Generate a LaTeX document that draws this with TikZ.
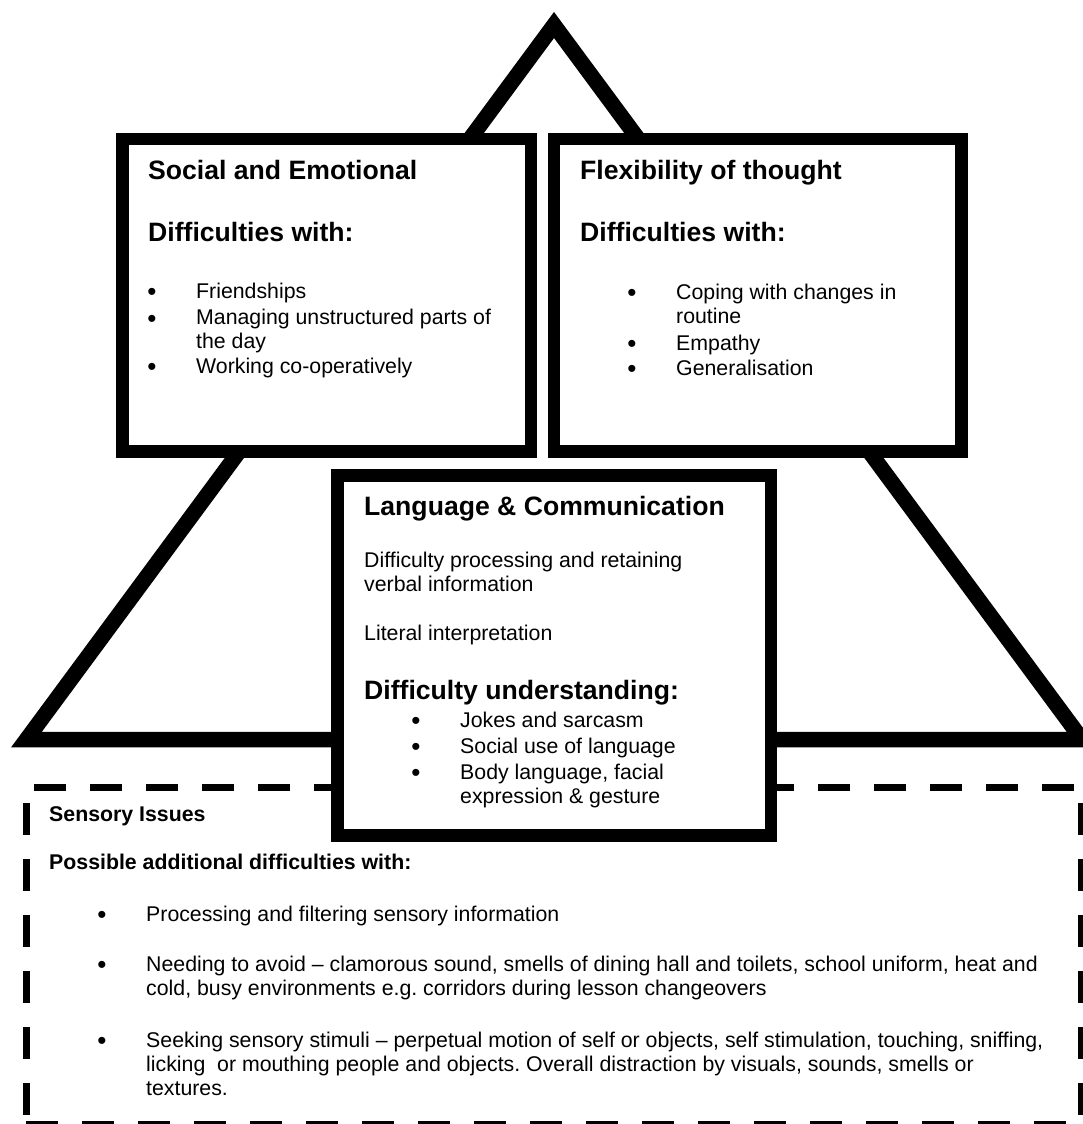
\documentclass[tikz,border=0pt]{standalone}
\usepackage{fontspec}
\setmainfont{Liberation Sans}
\frenchspacing
\newcommand{\bodysize}{\fontsize{21.3}{24}\selectfont}
\newcommand{\headsize}{\fontsize{26.6}{30}\selectfont\bfseries}

\begin{document}
\begin{tikzpicture}[x=1pt,y=-1pt,
  panel/.style={draw,line width=12.5pt,fill=white},
  txt/.style={anchor=base west,inner sep=0pt,align=left,font=\bodysize},
  head/.style={txt,font=\headsize},
  subhead/.style={txt,font=\bodysize\bfseries},
  dot/.style={anchor=base,inner sep=0pt,yshift=-2.5pt,font=\fontsize{26}{26}\selectfont},
  dashline/.style={line width=7.5pt,dash pattern=on 31.5pt off 24.5pt}]
\useasboundingbox (0,0) rectangle (1083,1124);
\clip (0,0) rectangle (1083,1124);
% pyramid behind the panels
\draw[line width=15.5pt,line join=miter] (554,25) -- (1082,739.5) -- (26.5,739.5) -- cycle;
% sensory frame
\draw[dashline] (34,787.5) -- (1082,787.5);
\draw[dashline] (26,1124.5) -- (1082,1124.5);
\draw[dashline] (26.5,803) -- (26.5,1124);
\draw[dashline] (1082,803) -- (1082,1124);
% the three panels
\draw[panel] (122.5,139) rectangle (531,451.5);
\draw[panel] (554,139) rectangle (961.5,451.5);
\draw[panel] (337.5,475.5) rectangle (771,835.5);

% multi-line texts sit on the baseline of their last line
\node[head] (social) at (148,179.3) {Social and Emotional};
\node[head] (socialdiff) at (148,241) {Difficulties with:};
\foreach \yy/\ty/\lbl in {298/298/Friendships,325/348.5/{Managing unstructured parts of\\the day},373/373/Working co-operatively}
  { \node[dot] (sdot\yy) at (152,\yy) {•};
    \node[txt] (sitem\yy) at (196,\ty) {\lbl}; }

\node[head] (flex) at (580,179.3) {Flexibility of thought};
\node[head] (flexdiff) at (580,241) {Difficulties with:};
\foreach \yy/\ty/\lbl in {299/323/{Coping with changes in\\routine},350/350/Empathy,375/375/Generalisation}
  { \node[dot] (fdot\yy) at (632,\yy) {•};
    \node[txt] (fitem\yy) at (676,\ty) {\lbl}; }

\node[head] (lang) at (364,515) {Language \& Communication};
\node[txt] (retain) at (364,591) {Difficulty processing and retaining\\verbal information};
\node[txt] (literal) at (364,640) {Literal interpretation};
\node[head] (langdiff) at (364,699) {Difficulty understanding:};
\foreach \yy/\ty/\lbl in {727/727/Jokes and sarcasm,753/753/Social use of language,779/803/{Body language, facial\\expression \& gesture}}
  { \node[dot] (ldot\yy) at (416,\yy) {•};
    \node[txt] (litem\yy) at (460,\ty) {\lbl}; }

\node[subhead] (sense) at (49,821) {Sensory Issues};
\node[subhead] (sensediff) at (49,869) {Possible additional difficulties with:};
\foreach \yy/\ty/\lbl in {921/921/Processing and filtering sensory information,
  971/995/{Needing to avoid – clamorous sound, smells of dining hall and toilets, school uniform, heat and\\cold, busy environments e.g. corridors during lesson changeovers},
  1047/1095/{Seeking sensory stimuli – perpetual motion of self or objects, self stimulation, touching, sniffing,\\licking\ \ or mouthing people and objects. Overall distraction by visuals, sounds, smells or\\textures.}}
  { \node[dot] (xdot\yy) at (102,\yy) {•};
    \node[txt] (xitem\yy) at (146,\ty) {\lbl}; }
\end{tikzpicture}
\end{document}
